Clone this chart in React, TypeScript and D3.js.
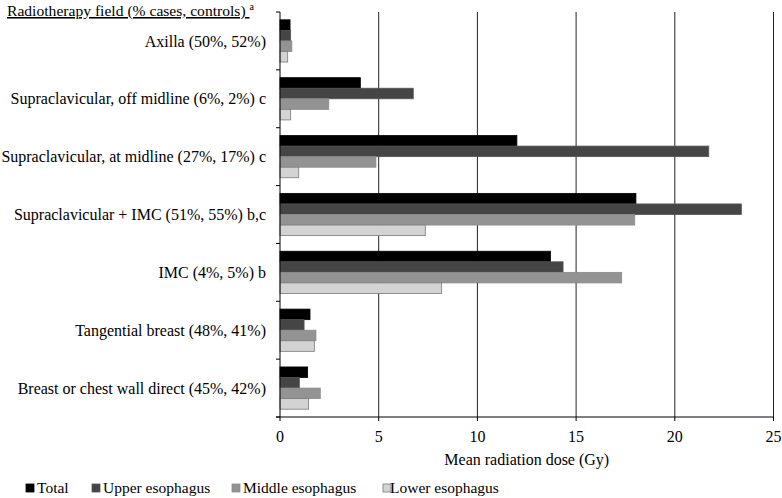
import React from "react";
import * as d3 from "d3";

const categories = [
  "Axilla (50%, 52%)",
  "Supraclavicular, off midline (6%, 2%) c",
  "Supraclavicular, at midline (27%, 17%) c",
  "Supraclavicular + IMC (51%, 55%) b,c",
  "IMC (4%, 5%) b",
  "Tangential breast (48%, 41%)",
  "Breast or chest wall direct (45%, 42%)",
];
const seriesNames = ["Total", "Upper esophagus", "Middle esophagus", "Lower esophagus"];
const total = [0.51, 4.07, 12.0, 18.03, 13.7, 1.52, 1.4];
const upper = [0.54, 6.75, 21.72, 23.37, 14.34, 1.22, 0.98];
const middle = [0.6, 2.47, 4.86, 17.97, 17.31, 1.82, 2.04];
const lower = [0.39, 0.54, 0.95, 7.36, 8.19, 1.74, 1.45];
const xTicks = [0, 5, 10, 15, 20, 25];

const fills = ["#000000", "#454545", "#939393", "#d3d3d3"];
const strokes = ["#000000", "#555555", "#8a8a8a", "#7a7a7a"];

export default function App() {
  const W = 782, H = 498;
  const left = 280, right = 773.5, top = 12, bottom = 417;
  const x = d3.scaleLinear().domain([0, 25]).range([left, right]);
  const y = d3.scaleBand<string>().domain(categories).range([top, bottom]).paddingInner(0.27).paddingOuter(0.135);
  const band = d3.scaleBand<string>().domain(seriesNames).range([0, y.bandwidth()]);
  const series = [total, upper, middle, lower];
  const step = (bottom - top) / categories.length;
  const font = "Liberation Serif, Times New Roman, serif";
  const legendX = [26, 92, 232, 383];
  const legendTextX = [37, 103, 243, 390];
  return (
    <svg width={W} height={H} style={{ position: "absolute", left: 0, top: 0 }} fontFamily={font}>
      <rect width={W} height={H} fill="#fff" />
      {xTicks.slice(1).map((t) => (
        <line key={t} x1={x(t)} x2={x(t)} y1={top} y2={bottom} stroke="#222" strokeWidth={1} />
      ))}
      {categories.map((c, i) =>
        series.map((s, j) => (
          <rect
            key={c + j}
            x={x(0)}
            y={(y(c) as number) + (band(seriesNames[j]) as number)}
            width={x(s[i]) - x(0)}
            height={band.bandwidth()}
            fill={fills[j]}
            stroke={strokes[j]}
            strokeWidth={0.8}
          />
        ))
      )}
      <line x1={left} x2={left} y1={top} y2={bottom} stroke="#000" />
      <line x1={left - 4} x2={right} y1={bottom} y2={bottom} stroke="#000" />
      {d3.range(categories.length + 1).map((k) => (
        <line key={k} x1={left - 4} x2={left} y1={top + k * step} y2={top + k * step} stroke="#000" />
      ))}
      {xTicks.map((t) => (
        <line key={"bt" + t} x1={x(t)} x2={x(t)} y1={bottom} y2={bottom + 4} stroke="#000" />
      ))}
      {categories.map((c) => (
        <text key={c} x={266} y={(y(c) as number) + y.bandwidth() / 2} dy="0.35em" textAnchor="end" fontSize={16} fill="#000">
          {c}
        </text>
      ))}
      {xTicks.map((t) => (
        <text key={"l" + t} x={x(t)} y={442} textAnchor="middle" fontSize={16} fill="#000">
          {t}
        </text>
      ))}
      <text x={(left + right) / 2} y={465} textAnchor="middle" fontSize={16} fill="#000">
        Mean radiation dose (Gy)
      </text>
      <text x={7} y={16} fontSize={15.6} fill="#000">
        <tspan textDecoration="underline">Radiotherapy field (% cases, controls) </tspan>
        <tspan fontSize={10} dy={-6}>a</tspan>
      </text>
      {seriesNames.map((n, j) => (
        <g key={n}>
          <rect x={legendX[j]} y={484} width={8} height={8} fill={fills[j]} stroke={strokes[j]} strokeWidth={0.8} />
          <text x={legendTextX[j]} y={493} fontSize={15.5} fill="#000">
            {n}
          </text>
        </g>
      ))}
    </svg>
  );
}
